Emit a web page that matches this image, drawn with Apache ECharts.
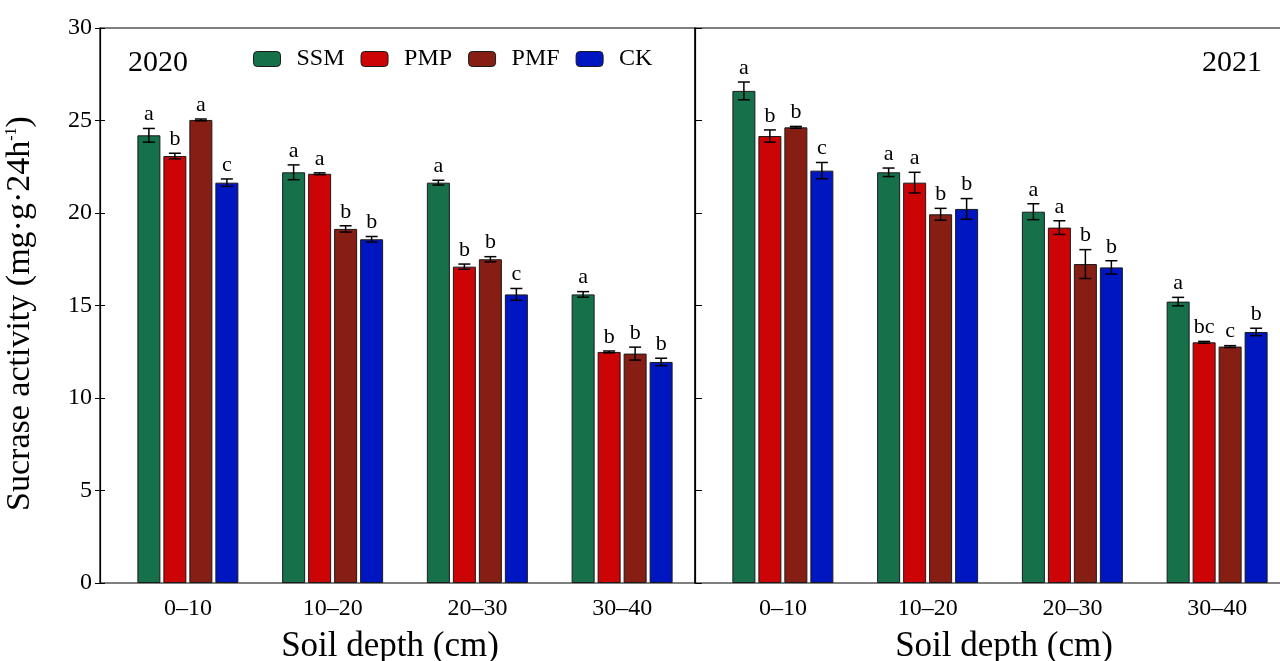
<!DOCTYPE html>
<html>
<head>
<meta charset="utf-8">
<script src="https://cdn.jsdelivr.net/npm/echarts@6/dist/echarts.min.js"></script>
<style>
html,body{margin:0;padding:0;background:#fff;overflow:hidden;width:1280px;height:661px;}
#c{width:1300px;height:661px;}
</style>
</head>
<body>
<div id="c"></div>
<script>
// ---------- data ----------
const categories = ['0\u201310', '10\u201320', '20\u201330', '30\u201340'];
const treatments = ['SSM', 'PMP', 'PMF', 'CK'];
const yTicks = [0, 5, 10, 15, 20, 25, 30];

// 2020
const ssm2020 = [24.2, 22.2, 21.64, 15.6];
const pmp2020 = [23.08, 22.12, 17.1, 12.49];
const pmf2020 = [25.03, 19.14, 17.5, 12.4];
const ck2020  = [21.64, 18.58, 15.6, 11.95];
const ssm2020Err = [0.37, 0.4, 0.13, 0.15];
const pmp2020Err = [0.15, 0.05, 0.14, 0.05];
const pmf2020Err = [0.05, 0.17, 0.14, 0.35];
const ck2020Err  = [0.2, 0.15, 0.32, 0.2];
const ssm2020Sig = ['a', 'a', 'a', 'a'];
const pmp2020Sig = ['b', 'a', 'b', 'b'];
const pmf2020Sig = ['a', 'b', 'b', 'b'];
const ck2020Sig  = ['c', 'b', 'c', 'b'];

// 2021
const ssm2021 = [26.6, 22.2, 20.07, 15.21];
const pmp2021 = [24.16, 21.64, 19.21, 13.01];
const pmf2021 = [24.63, 19.93, 17.24, 12.78];
const ck2021  = [22.29, 20.22, 17.06, 13.57];
const ssm2021Err = [0.48, 0.23, 0.43, 0.23];
const pmp2021Err = [0.33, 0.56, 0.37, 0.05];
const pmf2021Err = [0.05, 0.32, 0.78, 0.05];
const ck2021Err  = [0.44, 0.56, 0.36, 0.2];
const ssm2021Sig = ['a', 'a', 'a', 'a'];
const pmp2021Sig = ['b', 'a', 'a', 'bc'];
const pmf2021Sig = ['b', 'b', 'b', 'c'];
const ck2021Sig  = ['c', 'b', 'b', 'b'];

// ---------- style ----------
const colors = ['#16714B', '#CC0406', '#861E13', '#0016C0'];
const FONT = '"Liberation Serif", "Times New Roman", serif';
const BAR_W = 23, BAR_GAP = 3, STEP = BAR_W + BAR_GAP;

const panels = [
  { means: [ssm2020, pmp2020, pmf2020, ck2020], errs: [ssm2020Err, pmp2020Err, pmf2020Err, ck2020Err], sig: [ssm2020Sig, pmp2020Sig, pmf2020Sig, ck2020Sig], axis: 1, yaxis: 2 },
  { means: [ssm2021, pmp2021, pmf2021, ck2021], errs: [ssm2021Err, pmp2021Err, pmf2021Err, ck2021Err], sig: [ssm2021Sig, pmp2021Sig, pmf2021Sig, ck2021Sig], axis: 3, yaxis: 4 }
];

const series = [];
panels.forEach(function (p) {
  treatments.forEach(function (t, ti) {
    series.push({
      name: t, type: 'bar', xAxisIndex: p.axis, yAxisIndex: p.yaxis,
      data: p.means[ti], barWidth: BAR_W, barGap: (BAR_GAP / BAR_W * 100).toFixed(1) + '%',
      itemStyle: { color: colors[ti], borderColor: '#1a1a1a', borderWidth: 1 },
      emphasis: { disabled: true }, animation: false
    });
  });
  treatments.forEach(function (t, ti) {
    const errs = p.errs[ti], sig = p.sig[ti];
    series.push({
      name: t + '-err', type: 'custom', xAxisIndex: p.axis, yAxisIndex: p.yaxis,
      data: p.means[ti].map(function (m, i) { return [i, m, errs[i]]; }),
      z: 10, animation: false, silent: true,
      renderItem: function (params, api) {
        const i = api.value(0), m = api.value(1), e = api.value(2);
        const top = api.coord([i, m + e]);
        const bot = api.coord([i, m - e]);
        const x = top[0] + (ti - 1.5) * STEP;
        const hw = 6;
        const st = { stroke: '#000', lineWidth: 1.5 };
        return {
          type: 'group',
          children: [
            { type: 'line', shape: { x1: x, y1: top[1], x2: x, y2: bot[1] }, style: st },
            { type: 'line', shape: { x1: x - hw, y1: top[1], x2: x + hw, y2: top[1] }, style: st },
            { type: 'line', shape: { x1: x - hw, y1: bot[1], x2: x + hw, y2: bot[1] }, style: st },
            { type: 'text', x: x, y: top[1] - 3, style: { text: sig[params.dataIndex], font: '22px ' + FONT, fill: '#000', textAlign: 'center', textVerticalAlign: 'bottom' } }
          ]
        };
      }
    });
  });
});

const labelFont = { fontFamily: FONT, color: '#000' };
const gridBase = { top: 28, height: 555, containLabel: false, outerBoundsMode: 'none' };

const option = {
  animation: false,
  backgroundColor: '#fff',
  title: [
    { text: '2020', left: 123, top: 43, textStyle: { fontFamily: FONT, fontSize: 30, fontWeight: 'normal', color: '#000' } },
    { text: '2021', left: 1197, top: 43, textStyle: { fontFamily: FONT, fontSize: 30, fontWeight: 'normal', color: '#000' } }
  ],
  legend: {
    data: treatments, left: 248, top: 42, itemWidth: 27, itemHeight: 15, itemGap: 16,
    icon: 'roundRect',
    itemStyle: { borderColor: '#1a1a1a', borderWidth: 1 },
    textStyle: { fontFamily: FONT, fontSize: 24, color: '#000', padding: [0, 0, 0, 11] },
    selectedMode: false
  },
  grid: [
    Object.assign({ left: 100, width: 595, show: true, borderColor: '#000', borderWidth: 1.2, backgroundColor: 'transparent' }, gridBase),
    Object.assign({ left: 115.5, width: 579 }, gridBase),
    Object.assign({ left: 695, width: 595, show: true, borderColor: '#000', borderWidth: 1.2, backgroundColor: 'transparent' }, gridBase),
    Object.assign({ left: 710.5, width: 579 }, gridBase)
  ],
  xAxis: [
    { gridIndex: 0, type: 'value', min: 0, max: 1, show: false },
    { gridIndex: 1, type: 'category', data: categories, axisLine: { show: false }, axisTick: { show: false },
      axisLabel: Object.assign({ fontSize: 24, margin: 14 }, labelFont),
      name: 'Soil depth (cm)', nameLocation: 'middle', nameGap: 46,
      nameTextStyle: Object.assign({ fontSize: 35, padding: [0, 30, 0, 0] }, labelFont) },
    { gridIndex: 2, type: 'value', min: 0, max: 1, show: false },
    { gridIndex: 3, type: 'category', data: categories, axisLine: { show: false }, axisTick: { show: false },
      axisLabel: Object.assign({ fontSize: 24, margin: 14 }, labelFont),
      name: 'Soil depth (cm)', nameLocation: 'middle', nameGap: 46,
      nameTextStyle: Object.assign({ fontSize: 35, padding: [0, 0, 0, 8] }, labelFont) }
  ],
  yAxis: [
    { gridIndex: 0, type: 'value', min: yTicks[0], max: yTicks[yTicks.length - 1], interval: 5, position: 'left',
      axisLine: { show: true, lineStyle: { color: '#000', width: 1.2 } },
      axisTick: { show: true, length: 5, lineStyle: { color: '#000' } },
      splitLine: { show: false },
      axisLabel: Object.assign({ fontSize: 24, margin: 8 }, labelFont),
      name: 'Sucrase activity (mg\u00b7g\u00b724h{sup|-1})', nameLocation: 'middle', nameGap: 63, nameRotate: 90,
      nameTextStyle: Object.assign({ fontSize: 34, padding: [0, 16, 0, 0], rich: { sup: { fontSize: 16, fontFamily: FONT, color: '#000', padding: [0, 0, 16, 0] } } }, labelFont) },
    { gridIndex: 0, type: 'value', min: 0, max: 30, interval: 5, position: 'left',
      axisLine: { show: false }, axisTick: { show: true, inside: true, length: 5, lineStyle: { color: '#000' } },
      axisLabel: { show: false }, splitLine: { show: false } },
    { gridIndex: 1, type: 'value', min: 0, max: 30, show: false },
    { gridIndex: 2, type: 'value', min: 0, max: 30, interval: 5, position: 'left',
      axisLine: { show: true, lineStyle: { color: '#000', width: 1.2 } },
      axisTick: { show: true, inside: true, length: 7, lineStyle: { color: '#000' } },
      axisLabel: { show: false }, splitLine: { show: false } },
    { gridIndex: 3, type: 'value', min: 0, max: 30, show: false }
  ],
  series: series
};

const chart = echarts.init(document.getElementById('c'), null, { renderer: 'canvas' });
chart.setOption(option);
</script>
</body>
</html>
